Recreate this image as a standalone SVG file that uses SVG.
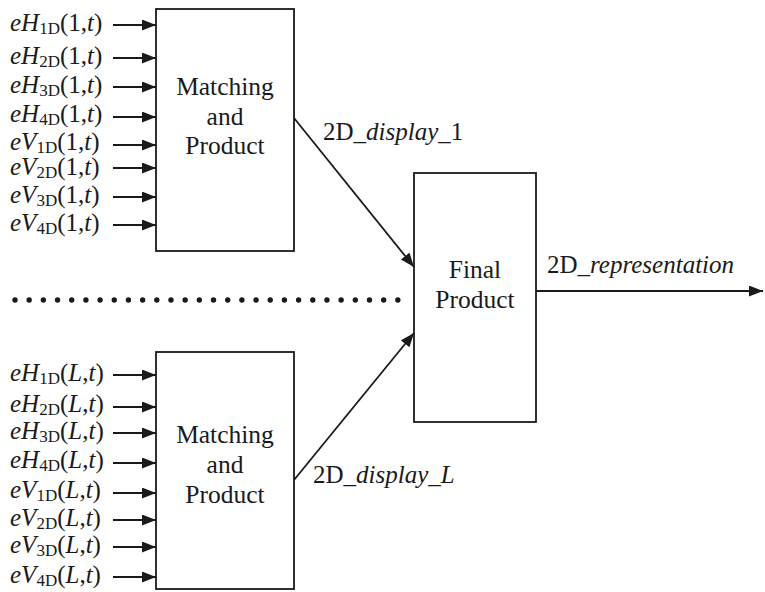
<svg xmlns="http://www.w3.org/2000/svg" width="765" height="592" viewBox="0 0 765 592" font-family="'Liberation Serif', serif">
<style>
text{font-family:'Liberation Serif',serif;font-size:25px;fill:#1a1a1a}
.i{font-style:italic}
.c{text-anchor:middle;font-size:25.5px}
.s{font-size:17px}
.box{fill:#fff;stroke:#1a1a1a;stroke-width:1.8}
.ln{stroke:#1a1a1a;stroke-width:1.8;fill:none}
</style>
<defs>
<marker id="ah" markerUnits="userSpaceOnUse" markerWidth="15" markerHeight="12" refX="14" refY="5.5" orient="auto">
<path d="M0,0 L14,5.5 L0,11 z" fill="#1a1a1a"/>
</marker>
</defs>
<g id="connectors">
<g class="ln" marker-end="url(#ah)">
<line x1="113" y1="25" x2="156" y2="25"/>
<line x1="113" y1="58" x2="156" y2="58"/>
<line x1="113" y1="87" x2="156" y2="87"/>
<line x1="113" y1="117" x2="156" y2="117"/>
<line x1="113" y1="145" x2="156" y2="145"/>
<line x1="113" y1="168" x2="156" y2="168"/>
<line x1="113" y1="197" x2="156" y2="197"/>
<line x1="113" y1="225" x2="156" y2="225"/>
<line x1="113" y1="375" x2="156" y2="375"/>
<line x1="113" y1="407" x2="156" y2="407"/>
<line x1="113" y1="433" x2="156" y2="433"/>
<line x1="113" y1="463" x2="156" y2="463"/>
<line x1="113" y1="493" x2="156" y2="493"/>
<line x1="113" y1="520" x2="156" y2="520"/>
<line x1="113" y1="547" x2="156" y2="547"/>
<line x1="113" y1="577" x2="156" y2="577"/>
<line x1="294" y1="118" x2="414" y2="267"/>
<line x1="294" y1="480" x2="414" y2="333"/>
<line x1="536" y1="291" x2="763" y2="291"/>
</g>
<line x1="15" y1="300" x2="399" y2="300" stroke="#1a1a1a" stroke-width="5.4" stroke-linecap="round" stroke-dasharray="0 14.18"/>
<text x="323" y="140" font-size="25.5">2D_<tspan class="i">display</tspan>_1</text>
<text x="313" y="483" font-size="25.5">2D_<tspan class="i">display</tspan>_<tspan class="i">L</tspan></text>
<text x="547" y="273" font-size="25.5">2D_<tspan class="i">representation</tspan></text>
</g>
<g id="inputs1">
<text x="10" y="31"><tspan class="i">eH</tspan><tspan class="s" dy="3">1D</tspan><tspan dy="-3">(1,</tspan><tspan class="i">t</tspan>)</text>
<text x="10" y="64"><tspan class="i">eH</tspan><tspan class="s" dy="3">2D</tspan><tspan dy="-3">(1,</tspan><tspan class="i">t</tspan>)</text>
<text x="10" y="93"><tspan class="i">eH</tspan><tspan class="s" dy="3">3D</tspan><tspan dy="-3">(1,</tspan><tspan class="i">t</tspan>)</text>
<text x="10" y="122"><tspan class="i">eH</tspan><tspan class="s" dy="3">4D</tspan><tspan dy="-3">(1,</tspan><tspan class="i">t</tspan>)</text>
<text x="10" y="150"><tspan class="i">eV</tspan><tspan class="s" dy="3">1D</tspan><tspan dy="-3">(1,</tspan><tspan class="i">t</tspan>)</text>
<text x="10" y="175"><tspan class="i">eV</tspan><tspan class="s" dy="3">2D</tspan><tspan dy="-3">(1,</tspan><tspan class="i">t</tspan>)</text>
<text x="10" y="203"><tspan class="i">eV</tspan><tspan class="s" dy="3">3D</tspan><tspan dy="-3">(1,</tspan><tspan class="i">t</tspan>)</text>
<text x="10" y="231"><tspan class="i">eV</tspan><tspan class="s" dy="3">4D</tspan><tspan dy="-3">(1,</tspan><tspan class="i">t</tspan>)</text>
</g>
<g id="inputsL">
<text x="10" y="381"><tspan class="i">eH</tspan><tspan class="s" dy="3">1D</tspan><tspan dy="-3">(</tspan><tspan class="i">L</tspan>,<tspan class="i">t</tspan>)</text>
<text x="10" y="412"><tspan class="i">eH</tspan><tspan class="s" dy="3">2D</tspan><tspan dy="-3">(</tspan><tspan class="i">L</tspan>,<tspan class="i">t</tspan>)</text>
<text x="10" y="439"><tspan class="i">eH</tspan><tspan class="s" dy="3">3D</tspan><tspan dy="-3">(</tspan><tspan class="i">L</tspan>,<tspan class="i">t</tspan>)</text>
<text x="10" y="468"><tspan class="i">eH</tspan><tspan class="s" dy="3">4D</tspan><tspan dy="-3">(</tspan><tspan class="i">L</tspan>,<tspan class="i">t</tspan>)</text>
<text x="10" y="498"><tspan class="i">eV</tspan><tspan class="s" dy="3">1D</tspan><tspan dy="-3">(</tspan><tspan class="i">L</tspan>,<tspan class="i">t</tspan>)</text>
<text x="10" y="526"><tspan class="i">eV</tspan><tspan class="s" dy="3">2D</tspan><tspan dy="-3">(</tspan><tspan class="i">L</tspan>,<tspan class="i">t</tspan>)</text>
<text x="10" y="553"><tspan class="i">eV</tspan><tspan class="s" dy="3">3D</tspan><tspan dy="-3">(</tspan><tspan class="i">L</tspan>,<tspan class="i">t</tspan>)</text>
<text x="10" y="583"><tspan class="i">eV</tspan><tspan class="s" dy="3">4D</tspan><tspan dy="-3">(</tspan><tspan class="i">L</tspan>,<tspan class="i">t</tspan>)</text>
</g>
<g id="match1">
<rect class="box" x="156" y="9" width="138" height="242"/>
<text class="c" x="225" y="95">Matching</text>
<text class="c" x="225" y="125">and</text>
<text class="c" x="225" y="154">Product</text>
</g>
<g id="matchL">
<rect class="box" x="156" y="352" width="138" height="237"/>
<text class="c" x="225" y="443">Matching</text>
<text class="c" x="225" y="473">and</text>
<text class="c" x="225" y="503">Product</text>
</g>
<g id="final">
<rect class="box" x="414" y="173" width="122" height="249"/>
<text class="c" x="475" y="278">Final</text>
<text class="c" x="475" y="308">Product</text>
</g>
</svg>
